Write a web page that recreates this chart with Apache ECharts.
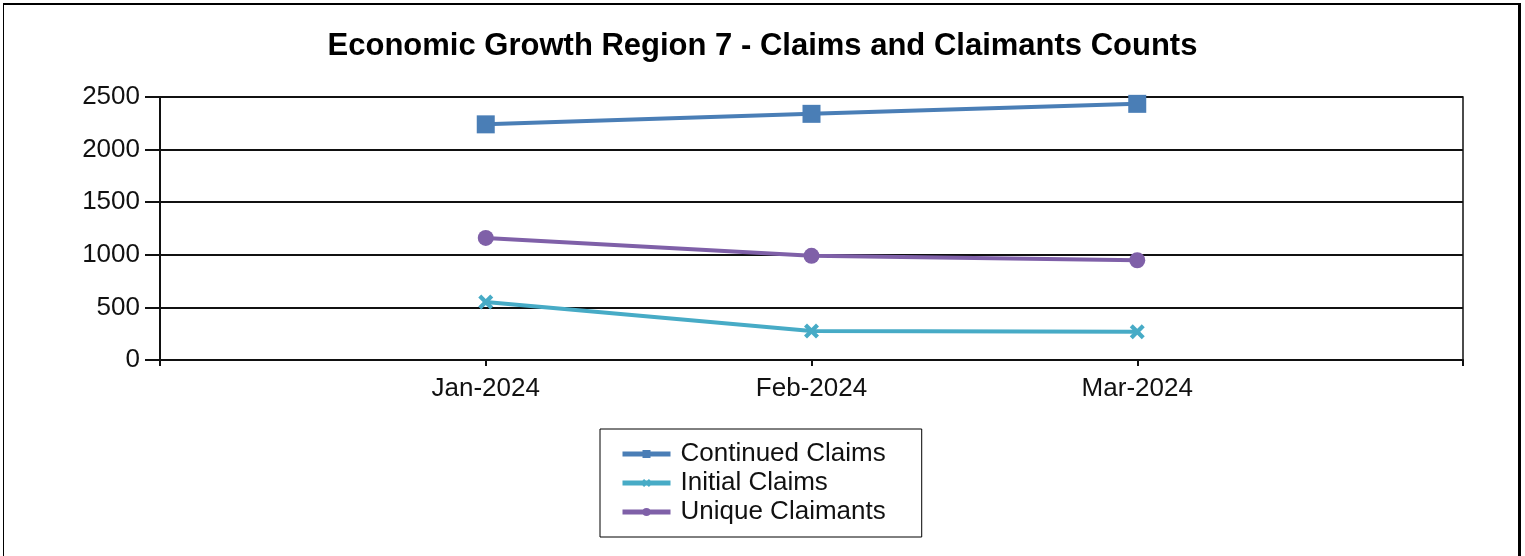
<!DOCTYPE html>
<html>
<head>
<meta charset="utf-8">
<script src="https://cdn.jsdelivr.net/npm/echarts@6/dist/echarts.min.js"></script>
<style>
    html,body{margin:0;padding:0;background:#fff;}
    #wrap{position:relative;width:1525px;height:556px;overflow:hidden;}
    #chart{position:absolute;left:0;top:0;width:1525px;height:556px;}
    #frame{position:absolute;left:3px;top:3px;width:1514px;height:560px;border-left:1px solid #000;border-top:2px solid #000;border-right:3px solid #000;pointer-events:none;}
</style>
</head>
<body>
<div id="wrap">
    <div id="chart"></div>
    <div id="frame"></div>
</div>
<script>
var months = ['Jan-2024', 'Feb-2024', 'Mar-2024'];
var continuedClaims = [2240, 2340, 2435];
var initialClaims = [551, 276, 268];
var uniqueClaimants = [1160, 990, 948];
var yTicks = [0, 500, 1000, 1500, 2000, 2500];

// empty slot on each side, as in the original plot
function pad(arr, fill){
    return [fill].concat(arr, [fill]);
}
var crossPath = 'path://M2,0 L5,3 L8,0 L10,2 L7,5 L10,8 L8,10 L5,7 L2,10 L0,8 L3,5 L0,2 Z';
var font = 'Liberation Sans, Arial, sans-serif';

var chart = echarts.init(document.getElementById('chart'));
var option = {
    animation: false,
    title: {
        text: 'Economic Growth Region 7 - Claims and Claimants Counts',
        left: 'center',
        top: 26,
        textStyle: {
            fontFamily: font,
            fontSize: 31,
            fontWeight: 'bold',
            color: '#000'
        }
    },
    legend: {
        orient: 'vertical',
        left: 600,
        top: 429,
        padding: [12, 36, 12, 20],
        itemGap: 3,
        itemWidth: 48,
        itemHeight: 10,
        borderColor: '#000',
        borderWidth: 1,
        lineStyle: { width: 5 },
        textStyle: {
            fontFamily: font,
            fontSize: 26,
            color: '#111',
            padding: [0, 0, 0, 5]
        },
        data: ['Continued Claims', 'Initial Claims', 'Unique Claimants']
    },
    grid: {
        left: 160,
        right: 62,
        top: 97,
        bottom: 196,
        show: true,
        borderColor: '#111',
        borderWidth: 1.5
    },
    xAxis: {
        type: 'category',
        boundaryGap: false,
        data: pad(months, ''),
        axisLine: { lineStyle: { color: '#111', width: 2 } },
        axisTick: { show: true, length: 6, interval: 0, lineStyle: { color: '#111', width: 2 } },
        axisLabel: {
            margin: 16,
            interval: 0,
            fontFamily: font,
            fontSize: 26,
            color: '#111'
        },
        splitLine: { show: false }
    },
    yAxis: {
        type: 'value',
        min: yTicks[0],
        max: yTicks[yTicks.length - 1],
        interval: 500,
        axisLine: { show: true, lineStyle: { color: '#111', width: 2 } },
        axisTick: { show: true, length: 15, lineStyle: { color: '#111', width: 2 } },
        axisLabel: {
            margin: 20,
            fontFamily: font,
            fontSize: 26,
            color: '#111',
            formatter: function(v){ return String(v); }
        },
        splitLine: { show: true, lineStyle: { color: '#111', width: 2 } }
    },
    series: [
        {
            name: 'Continued Claims',
            type: 'line',
            symbol: 'rect',
            symbolSize: 18,
            showAllSymbol: true,
            itemStyle: { color: '#4A7EB6' },
            lineStyle: { width: 4, color: '#4A7EB6' },
            data: pad(continuedClaims, '-')
        },
        {
            name: 'Initial Claims',
            type: 'line',
            symbol: crossPath,
            symbolSize: 15,
            showAllSymbol: true,
            itemStyle: { color: '#47ABC6' },
            lineStyle: { width: 4, color: '#47ABC6' },
            data: pad(initialClaims, '-')
        },
        {
            name: 'Unique Claimants',
            type: 'line',
            symbol: 'circle',
            symbolSize: 16,
            showAllSymbol: true,
            itemStyle: { color: '#7F60A8' },
            lineStyle: { width: 4, color: '#7F60A8' },
            data: pad(uniqueClaimants, '-')
        }
    ]
};
chart.setOption(option);
window.addEventListener('resize', function(){
    chart.resize();
});
</script>
</body>
</html>
